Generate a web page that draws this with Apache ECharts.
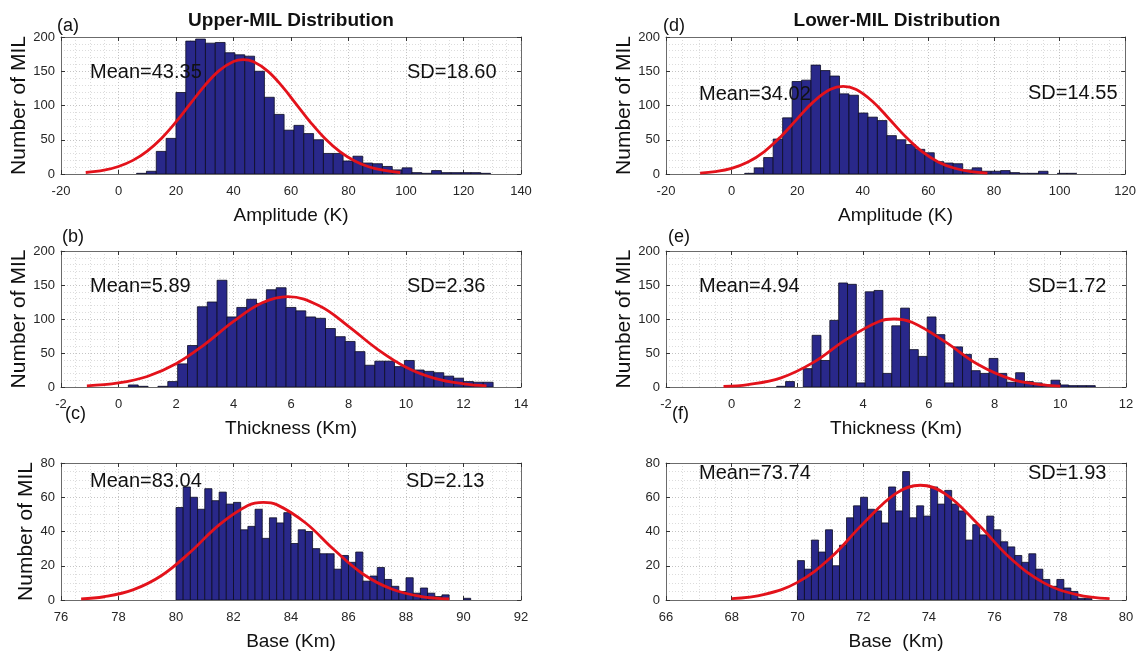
<!DOCTYPE html>
<html><head><meta charset="utf-8">
<script src="https://cdn.jsdelivr.net/npm/echarts@6/dist/echarts.min.js"></script>
<style>html,body{margin:0;padding:0;background:#fff}#c{width:1139px;height:654px}</style>
</head><body><div id="c"></div>
<script>
const FONT = '"Liberation Sans", Arial, Helvetica, sans-serif';

// ---------- (a) Upper-MIL amplitude ----------
const aBinStart = 6.3, aBinWidth = 3.42;
const aCounts = [1,4,33,52,119,194,197,191,192,177,174,172,150,112,87,64,71,59,50,30,30,19,26,16,15,11,6,9,2,1,5,2,2,2,2,1];
const aCurveX = [-11.4,-5,0,5,10,15,20,25,30,35,40,43.35,47,52,57,62,67,72,77,82,87,92,98];
const aCurveY = [2.2,5.7,11,19.9,33.5,52.3,76,102.7,129.1,151,164.3,167,163.8,149.9,127.6,101,74.4,51,32.5,19.3,10.6,5.5,2.2];
const aXTicks = [-20, 140, 20], aYTicks = [0, 200, 50];

// ---------- (b) Upper-MIL thickness ----------
const bBinStart = 0, bBinWidth = 0.3429;
const bCounts = [0,3,1,0,1,8,34,61,118,125,157,103,117,129,123,143,146,117,112,103,101,86,74,67,52,32,38,38,30,39,25,23,21,16,13,8,7,7];
const bCurveX = [-1.1,0,1,2,3,4,5,5.89,7,8,9,10,11,12,12.8];
const bCurveY = [1.7,5.9,15.5,34.2,62.8,96.5,123.9,133,119.1,89.2,55.8,29.2,12.8,4.7,1.8];
const bXTicks = [-2, 14, 2], bYTicks = [0, 200, 50];

// ---------- (c) Upper-MIL base ----------
const cBinStart = 80, cBinWidth = 0.25;
const cCounts = [54,66,60,53,65,58,63,56,57,41,43,53,36,48,45,51,33,41,40,30,27,27,18,26,22,28,11,14,19,12,8,5,13,4,7,4,2,3,0,0,1];
const cCurveX = [76.7,77.5,78.5,79.5,80.5,81.5,82.5,83.04,83.5,84.5,85.5,86.5,87.5,88.5,89.5];
const cCurveY = [0.7,1.9,5.9,14.3,28,43.9,55.2,57,55.7,45.1,29.3,15.2,6.4,2.1,0.6];
const cXTicks = [76, 92, 2], cYTicks = [0, 80, 20];

// ---------- (d) Lower-MIL amplitude ----------
const dBinStart = 4.0, dBinWidth = 2.89;
const dCounts = [1,9,24,51,82,135,137,159,151,143,117,115,89,83,78,56,50,43,36,31,18,16,15,6,9,4,4,5,2,1,1,4,0,1,1];
const dCurveX = [-9.6,-5,0,5,10,15,20,25,30,34.02,38,43,48,53,58,63,68,73,78];
const dCurveY = [1.4,3.5,8.3,17.5,32.8,54.5,80.5,105.6,123.2,128,123.3,105.8,80.7,54.7,32.9,17.6,8.4,3.5,1.3];
const dXTicks = [-20, 120, 20], dYTicks = [0, 200, 50];

// ---------- (e) Lower-MIL thickness ----------
const eBinStart = 1.37, eBinWidth = 0.2693;
const eCounts = [1,8,0,27,76,39,98,153,151,6,140,142,20,90,116,55,45,103,77,6,59,48,24,20,42,20,7,21,8,6,3,10,3,2,2,2];
const eCurveX = [-0.25,0.5,1.5,2.5,3.5,4.5,4.94,5.5,6.5,7.5,8.5,9.5,10];
const eCurveY = [1,3.6,13.5,36.6,70.4,96.8,100,94.8,66.3,33,11.7,3,1.3];
const eXTicks = [-2, 12, 2], eYTicks = [0, 200, 50];

// ---------- (f) Lower-MIL base ----------
const fBinStart = 70.0, fBinWidth = 0.2134;
const fCounts = [23,18,35,28,41,20,32,48,55,60,53,52,45,66,52,75,48,55,49,66,56,64,56,52,35,44,38,49,41,34,31,26,22,27,18,12,8,12,7,5,1,1];
const fCurveX = [68,69,70,71,72,73,73.74,74.5,75.5,76.5,77.5,78.5,79.5];
const fCurveY = [0.8,3.3,10.3,24.5,44.6,62.3,67,62,44.2,24.1,10,3.2,0.8];
const fXTicks = [66, 80, 2], fYTicks = [0, 80, 20];

const panelTexts = {
  a: ['(a)', 'Mean=43.35', 'SD=18.60', 'Amplitude (K)'],
  b: ['(b)', 'Mean=5.89', 'SD=2.36', 'Thickness (Km)'],
  c: ['(c)', 'Mean=83.04', 'SD=2.13', 'Base (Km)'],
  d: ['(d)', 'Mean=34.02', 'SD=14.55', 'Amplitude (K)'],
  e: ['(e)', 'Mean=4.94', 'SD=1.72', 'Thickness (Km)'],
  f: ['(f)', 'Mean=73.74', 'SD=1.93', 'Base  (Km)']
};
const titles = ['Upper-MIL Distribution', 'Lower-MIL Distribution'];
const yName = 'Number of MIL';

// ---------- layout ----------
const panels = [
  {k:'a', start:aBinStart, w:aBinWidth, counts:aCounts, cx:aCurveX, cy:aCurveY, xt:aXTicks, yt:aYTicks,
   grid:{left:61, top:37, width:460, height:137}, yGap:30, yMinor:5,
   letter:[57,26], mean:[90,72], sd:[407,72]},
  {k:'b', start:bBinStart, w:bBinWidth, counts:bCounts, cx:bCurveX, cy:bCurveY, xt:bXTicks, yt:bYTicks,
   grid:{left:61, top:251, width:460, height:136}, yGap:30, yMinor:5,
   letter:[62,237], mean:[90,286], sd:[407,286]},
  {k:'c', start:cBinStart, w:cBinWidth, counts:cCounts, cx:cCurveX, cy:cCurveY, xt:cXTicks, yt:cYTicks,
   grid:{left:61, top:463, width:460, height:137}, yGap:24, yMinor:4,
   letter:[65,414], mean:[90,481], sd:[406,481]},
  {k:'d', start:dBinStart, w:dBinWidth, counts:dCounts, cx:dCurveX, cy:dCurveY, xt:dXTicks, yt:dYTicks,
   grid:{left:666, top:37, width:460, height:137}, yGap:20, yMinor:5,
   letter:[663,26], mean:[699,94], sd:[1028,93]},
  {k:'e', start:eBinStart, w:eBinWidth, counts:eCounts, cx:eCurveX, cy:eCurveY, xt:eXTicks, yt:eYTicks,
   grid:{left:666, top:251, width:460, height:136}, yGap:20, yMinor:5,
   letter:[668,237], mean:[699,286], sd:[1028,286]},
  {k:'f', start:fBinStart, w:fBinWidth, counts:fCounts, cx:fCurveX, cy:fCurveY, xt:fXTicks, yt:fYTicks,
   grid:{left:666, top:463, width:460, height:137}, yGap:null, yMinor:4,
   letter:[672,414], mean:[699,473], sd:[1028,473]}
];

const BOX = '#6b6b6b', TICK = '#333', LABEL = '#262626';
const gridMajor = {show:true, lineStyle:{type:[1,2], color:'#c4c4c4', width:1}};
const gridMinor = {show:true, lineStyle:{type:[1,2], color:'#dcdcdc', width:1}};

const grids = [], xAxes = [], yAxes = [], series = [], graphics = [];

function renderHist(params, api) {
  const x0 = api.value(0), x1 = api.value(1), y = api.value(2);
  if (!(y > 0)) return null;
  const p0 = api.coord([x0, y]);
  const p1 = api.coord([x1, 0]);
  return {
    type: 'rect',
    shape: {x: p0[0], y: p0[1], width: p1[0] - p0[0], height: p1[1] - p0[1]},
    style: {fill: '#29288a', stroke: '#0d0d22', lineWidth: 0.8}
  };
}

panels.forEach((p, i) => {
  const t = panelTexts[p.k];
  grids.push(Object.assign({containLabel:false}, p.grid));
  xAxes.push({
    gridIndex: i, type: 'value', position: 'bottom',
    min: p.xt[0], max: p.xt[1], interval: p.xt[2],
    name: t[3], nameLocation: 'middle', nameGap: 32,
    nameTextStyle: {fontSize: 19, color: '#111', fontFamily: FONT},
    axisLine: {show: true, onZero: false, lineStyle: {color: BOX, width: 1}},
    axisTick: {show: true, inside: true, length: 4, lineStyle: {color: TICK}},
    axisLabel: {show: true, fontSize: 13, color: LABEL, margin: 11, fontFamily: FONT},
    splitLine: gridMajor,
    minorTick: {show: false, splitNumber: 4},
    minorSplitLine: gridMinor
  });
  xAxes.push({
    gridIndex: i, type: 'value', position: 'top',
    min: p.xt[0], max: p.xt[1], interval: p.xt[2],
    axisLine: {show: true, onZero: false, lineStyle: {color: BOX, width: 1}},
    axisTick: {show: true, inside: true, length: 4, lineStyle: {color: TICK}},
    axisLabel: {show: false}, splitLine: {show: false}
  });
  const yl = {
    gridIndex: i, type: 'value', position: 'left',
    min: p.yt[0], max: p.yt[1], interval: p.yt[2],
    axisLine: {show: true, onZero: false, lineStyle: {color: BOX, width: 1}},
    axisTick: {show: true, inside: true, length: 4, lineStyle: {color: TICK}},
    axisLabel: {show: true, fontSize: 13, color: LABEL, margin: 6, fontFamily: FONT},
    splitLine: gridMajor,
    minorTick: {show: false, splitNumber: p.yMinor},
    minorSplitLine: gridMinor
  };
  if (p.yGap !== null) {
    Object.assign(yl, {
      name: yName, nameLocation: 'middle', nameRotate: 90, nameGap: p.yGap,
      nameTextStyle: {fontSize: 21, color: '#111', fontFamily: FONT}
    });
  }
  yAxes.push(yl);
  yAxes.push({
    gridIndex: i, type: 'value', position: 'right',
    min: p.yt[0], max: p.yt[1], interval: p.yt[2],
    axisLine: {show: true, onZero: false, lineStyle: {color: BOX, width: 1}},
    axisTick: {show: true, inside: true, length: 4, lineStyle: {color: TICK}},
    axisLabel: {show: false}, splitLine: {show: false}
  });

  const histData = p.counts.map((c, k) => [p.start + k * p.w, p.start + (k + 1) * p.w, c]);
  series.push({
    type: 'custom', xAxisIndex: 2 * i, yAxisIndex: 2 * i,
    renderItem: renderHist, encode: {x: [0, 1], y: 2},
    data: histData, z: 2, silent: true, clip: true
  });
  series.push({
    type: 'line', xAxisIndex: 2 * i, yAxisIndex: 2 * i,
    data: p.cx.map((x, k) => [x, p.cy[k]]),
    smooth: 0.4, showSymbol: false, symbol: 'none',
    lineStyle: {color: '#e3121b', width: 2.8}, z: 3, silent: true
  });

  graphics.push({type: 'text', z: 10, style: {text: t[0], x: p.letter[0], y: p.letter[1], font: '18px ' + FONT, fill: '#111', verticalAlign: 'middle', align: 'left'}});
  graphics.push({type: 'text', z: 10, style: {text: t[1], x: p.mean[0], y: p.mean[1], font: '20px ' + FONT, fill: '#111', verticalAlign: 'middle', align: 'left'}});
  graphics.push({type: 'text', z: 10, style: {text: t[2], x: p.sd[0], y: p.sd[1], font: '20px ' + FONT, fill: '#111', verticalAlign: 'middle', align: 'left'}});
});

graphics.push({type: 'text', z: 10, style: {text: titles[0], x: 291, y: 21, font: 'bold 19px ' + FONT, fill: '#111', verticalAlign: 'middle', align: 'center'}});
graphics.push({type: 'text', z: 10, style: {text: titles[1], x: 897, y: 21, font: 'bold 19px ' + FONT, fill: '#111', verticalAlign: 'middle', align: 'center'}});

const chart = echarts.init(document.getElementById('c'), null, {renderer: 'canvas'});
chart.setOption({
  backgroundColor: '#fff',
  animation: false,
  textStyle: {fontFamily: FONT},
  grid: grids, xAxis: xAxes, yAxis: yAxes, series: series,
  graphic: {elements: graphics}
});
</script></body></html>
